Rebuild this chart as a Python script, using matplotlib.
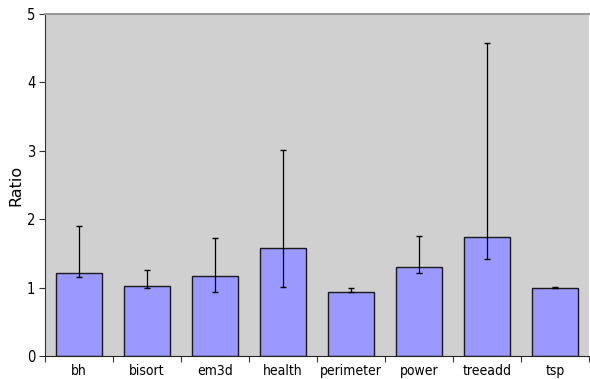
import matplotlib
matplotlib.use("Agg")
import matplotlib.pyplot as plt
from matplotlib import font_manager
import numpy as np

categories = ["bh", "bisort", "em3d", "health", "perimeter", "power", "treeadd", "tsp"]
ratios = [1.22, 1.02, 1.17, 1.58, 0.94, 1.30, 1.74, 1.00]
err_high = [1.90, 1.26, 1.72, 3.01, 0.99, 1.76, 4.58, 1.01]
err_low = [1.16, 0.99, 0.94, 1.01, 0.93, 1.21, 1.42, 0.995]
y_ticks = [0, 1, 2, 3, 4, 5]

names = {f.name for f in font_manager.fontManager.ttflist}
fam = "DejaVu Sans"
stretch = "normal"
if "DejaVu Sans Condensed" in names:
    fam = "DejaVu Sans Condensed"
else:
    stretch = "condensed"
plt.rcParams["font.family"] = [fam, "DejaVu Sans"]
plt.rcParams["font.stretch"] = stretch

W, H = 590, 379
fig = plt.figure(figsize=(W / 100, H / 100), dpi=100)
left, right, top, bottom = 45, 589, 14, 356
ax = fig.add_axes([left / W, 1 - bottom / H, (right - left) / W, (bottom - top) / H])
ax.set_facecolor("#D0D0D0")

x = np.arange(len(categories))
vals = np.array(ratios)
yerr = np.array([vals - np.array(err_low), np.array(err_high) - vals])
ax.bar(x, vals, width=0.665, color="#9999FF", edgecolor="#1a1a1a", linewidth=1.0, zorder=2)
ax.errorbar(x, vals, yerr=yerr, fmt="none", ecolor="black", elinewidth=0.9,
            capsize=2.2, capthick=1.0, zorder=3)

cat_w = 68.7
ax.set_xlim(-0.5, -0.5 + (right - left) / cat_w)
ax.set_ylim(0, 5)
ax.set_yticks(y_ticks)
ax.set_yticklabels([str(t) for t in y_ticks], fontsize=10.5)
ax.set_xticks(np.arange(len(categories) + 1) - 0.5)
ax.set_xticklabels([])
ax.set_xticks(x, minor=True)
ax.set_xticklabels(categories, minor=True, fontsize=10)
ax.tick_params(axis="x", which="minor", length=0, pad=6)
ax.tick_params(axis="x", which="major", length=4, direction="out", color="#333333")
ax.tick_params(axis="y", length=4, direction="out", color="#333333", pad=3)

ax.spines["right"].set_visible(False)
ax.spines["top"].set_color("#999999")
ax.spines["top"].set_linewidth(1.5)
ax.spines["left"].set_color("#333333")
ax.spines["bottom"].set_color("#222222")

fig.text(15.5 / W, 1 - 185 / H, "Ratio", rotation=90, ha="center", va="center",
         fontsize=11.5, family="DejaVu Sans", fontstretch="normal")

fig.savefig("out.png", dpi=100)
